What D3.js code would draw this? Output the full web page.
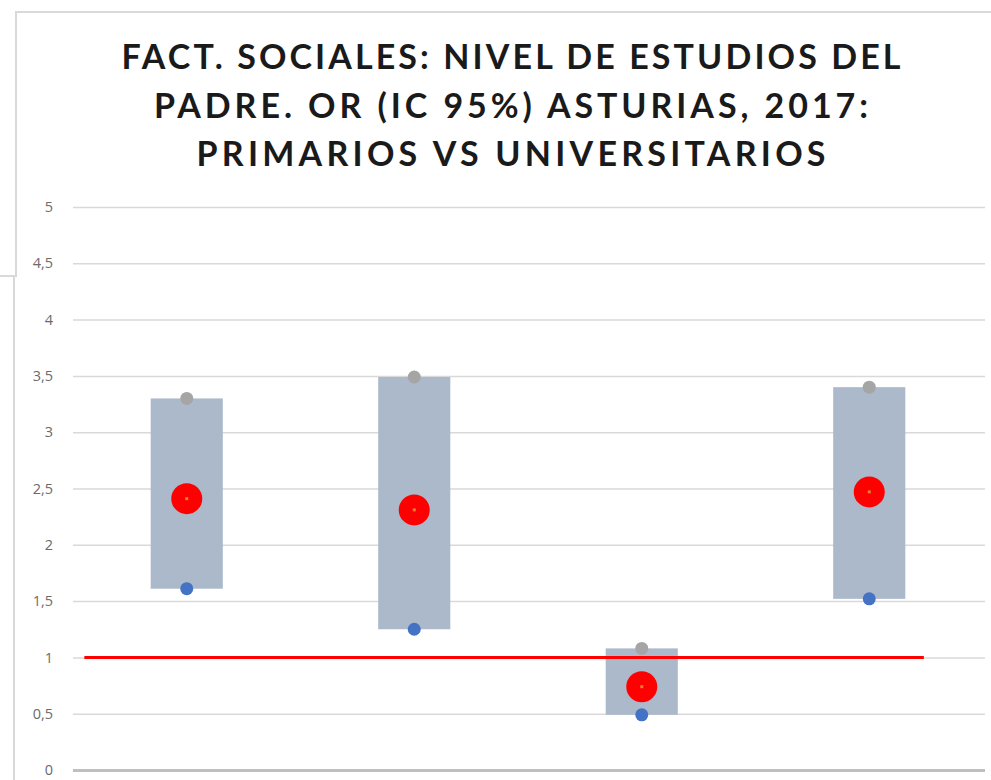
<!DOCTYPE html>
<html>
<head>
<meta charset="utf-8">
<script src="https://cdn.jsdelivr.net/npm/d3@7"></script>
<style>
  html, body { margin: 0; padding: 0; background: #fff; }
  svg { display: block; }
</style>
</head>
<body>
<div id="chart"></div>
<script>
'use strict';

// Data
const categories = ['Grupo 1', 'Grupo 2', 'Grupo 3', 'Grupo 4'];
const lowerCI = [1.61, 1.25, 0.49, 1.52];
const oddsRatio = [2.41, 2.31, 0.74, 2.47];
const upperCI = [3.30, 3.49, 1.08, 3.40];
const yTicks = [0, 0.5, 1, 1.5, 2, 2.5, 3, 3.5, 4, 4.5, 5];
const refValue = 1;
const refSpan = [0.05, 3.74]; // in category units
const titleLines = [
    'FACT. SOCIALES: NIVEL DE ESTUDIOS DEL',
    'PADRE. OR (IC 95%) ASTURIAS, 2017:',
    'PRIMARIOS VS UNIVERSITARIOS'
];

const width = 991, height = 780;
const plot = { left: 73, right: 983, top: 207, bottom: 770 };

const svg = d3.select('#chart').append('svg')
    .attr('width', width)
    .attr('height', height);

// Window edges from the screenshot
const edge = '#d9d9d9';
svg.append('path')
    .attr('d', 'M991,12 H16 V276 H0 M14,276 V780')
    .attr('fill', 'none')
    .attr('stroke', edge)
    .attr('stroke-width', 2);

// Title
const titleWidths = [779, 714, 629];
svg.append('g')
    .selectAll('text')
    .data(titleLines)
    .join('text')
    .attr('x', 511)
    .attr('y', (d, i) => 69 + i * 48.5)
    .attr('text-anchor', 'middle')
    .attr('textLength', (d, i) => titleWidths[i])
    .attr('lengthAdjust', 'spacing')
    .attr('font-family', 'Lato, "Open Sans", sans-serif')
    .attr('font-weight', 700)
    .attr('font-size', 34)
    .attr('fill', '#1a1a1a')
    .text(d => d);

// Scales
const y = d3.scaleLinear()
    .domain([0, 5])
    .range([plot.bottom, plot.top]);

const x = d3.scaleBand()
    .domain(categories)
    .range([plot.left, plot.right])
    .paddingInner(0.683)
    .paddingOuter(0.3415);

const xIdx = d3.scaleLinear()
    .domain([0, categories.length])
    .range([plot.left, plot.right]);

const esLocale = d3.formatLocale({ decimal: ',', thousands: '.', grouping: [3], currency: ['', '€'] });
const fmt = esLocale.format('~g');

// Gridlines + y labels
const yAxis = svg.append('g')
    .attr('transform', `translate(${plot.left},0)`)
    .call(d3.axisLeft(y)
        .tickValues(yTicks)
        .tickSize(-(plot.right + 2 - plot.left))
        .tickPadding(20)
        .tickFormat(fmt));

yAxis.select('.domain').remove();
yAxis.selectAll('.tick line')
    .attr('stroke', '#d9d9d9')
    .attr('stroke-width', 1.5);
yAxis.selectAll('.tick text')
    .attr('fill', '#6b6b6b')
    .attr('font-family', '"Open Sans", Lato, sans-serif')
    .attr('font-size', 14.5);
yAxis.selectAll('.tick')
    .filter(d => d === 0)
    .select('line')
    .attr('stroke', '#bfbfbf')
    .attr('stroke-width', 3);

const idx = d3.range(categories.length);

// CI boxes
svg.append('g')
    .selectAll('rect')
    .data(idx)
    .join('rect')
    .attr('x', i => x(categories[i]))
    .attr('width', x.bandwidth())
    .attr('y', i => y(upperCI[i]))
    .attr('height', i => y(lowerCI[i]) - y(upperCI[i]))
    .attr('fill', '#acb9ca');

// Reference line OR = 1
svg.append('line')
    .attr('x1', xIdx(refSpan[0]))
    .attr('x2', xIdx(refSpan[1]))
    .attr('y1', y(refValue))
    .attr('y2', y(refValue))
    .attr('stroke', '#ff0000')
    .attr('stroke-width', 3);

const cx = i => x(categories[i]) + x.bandwidth() / 2;

// Upper CI points
svg.append('g')
    .selectAll('circle')
    .data(idx)
    .join('circle')
    .attr('cx', cx)
    .attr('cy', i => y(upperCI[i]))
    .attr('r', 6.5)
    .attr('fill', '#a5a5a5');

// Lower CI points
svg.append('g')
    .selectAll('circle')
    .data(idx)
    .join('circle')
    .attr('cx', cx)
    .attr('cy', i => y(lowerCI[i]))
    .attr('r', 6.5)
    .attr('fill', '#4472c4');

// OR points (big red marker with a small orange centre)
const orG = svg.append('g')
    .selectAll('g')
    .data(idx)
    .join('g')
    .attr('transform', i => `translate(${cx(i)},${y(oddsRatio[i])})`);

orG.append('circle')
    .attr('r', 15.5)
    .attr('fill', '#ff0000');

orG.append('rect')
    .attr('x', -1.5)
    .attr('y', -1.5)
    .attr('width', 3)
    .attr('height', 3)
    .attr('fill', '#ed7d31');
</script>
</body>
</html>
